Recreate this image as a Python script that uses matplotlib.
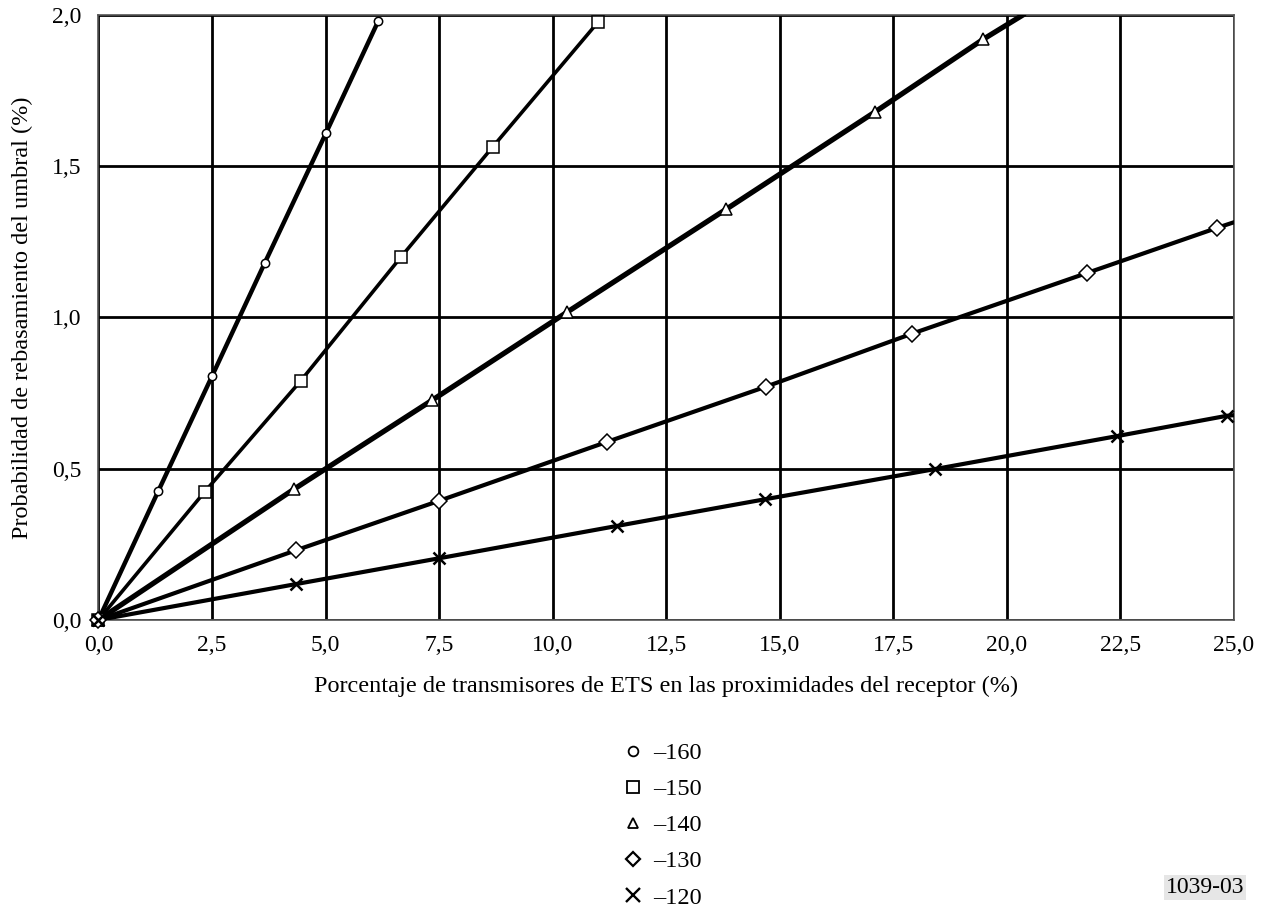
"""Threshold-exceedance probability vs share of ETS transmitters near the receiver."""
import matplotlib
matplotlib.use("Agg")
import matplotlib.pyplot as plt
from matplotlib.lines import Line2D

plt.rcParams["font.family"] = ["Liberation Serif", "DejaVu Serif"]

# series
x_160 = [0, 1.32, 2.50, 3.66, 5.01, 6.16]
y_160 = [0, 0.427, 0.806, 1.18, 1.61, 1.98]

x_150 = [0, 2.34, 4.45, 6.66, 8.68, 11.0]
y_150 = [0, 0.424, 0.79, 1.20, 1.564, 1.977]

x_140 = [0, 4.30, 7.35, 10.32, 13.82, 17.09, 19.48, 20.35]
y_140 = [0, 0.432, 0.727, 1.018, 1.358, 1.679, 1.92, 2.0]
n_mark_140 = 7          # last point is just where the line leaves the frame

x_130 = [0, 4.36, 7.50, 11.2, 14.69, 17.92, 21.76, 24.62, 25.0]
y_130 = [0, 0.231, 0.394, 0.589, 0.771, 0.947, 1.147, 1.296, 1.315]
n_mark_130 = 8

x_120 = [0, 4.36, 7.50, 11.42, 14.67, 18.42, 22.43, 24.84, 25.0]
y_120 = [0, 0.119, 0.204, 0.311, 0.399, 0.499, 0.608, 0.675, 0.677]
n_mark_120 = 8

labels = ["\u2013160", "\u2013150", "\u2013140", "\u2013130", "\u2013120"]

xticks = [0, 2.5, 5, 7.5, 10, 12.5, 15, 17.5, 20, 22.5, 25]
xticklabels = ["0,0", "2,5", "5,0", "7,5", "10,0", "12,5", "15,0", "17,5", "20,0", "22,5", "25,0"]
yticks = [0, 0.5, 1.0, 1.5, 2.0]
yticklabels = ["0,0", "0,5", "1,0", "1,5", "2,0"]

fig = plt.figure(figsize=(12.67, 9.10), dpi=100)
ax = fig.add_axes([0.0777, 0.3187, 0.8963, 0.6648])

ax.set_xlim(0, 25)
ax.set_ylim(0, 2.0)
ax.set_xticks(xticks)
ax.set_xticklabels(xticklabels)
ax.set_yticks(yticks)
ax.set_yticklabels(yticklabels)
ax.tick_params(length=0, labelsize=17)
ax.tick_params(axis="x", pad=11)
ax.tick_params(axis="y", pad=12)
ax.grid(True, color="black", lw=2.0)
ax.set_axisbelow(True)
for s in ax.spines.values():
    s.set_color("#555555")
    s.set_linewidth(1.2)

mk = dict(markerfacecolor="white", markeredgecolor="black", markeredgewidth=1.1, clip_on=False)
ax.plot(x_160, y_160, color="black", lw=3.2, marker="o", markersize=6, zorder=5, **mk)
ax.plot(x_150, y_150, color="black", lw=2.6, marker="s", markersize=9, zorder=5, **mk)
ax.plot(x_140, y_140, color="black", lw=3.8, zorder=4)
ax.plot(x_140[:n_mark_140], y_140[:n_mark_140], ls="none", marker="^", markersize=8, zorder=6, **mk)
ax.plot(x_130, y_130, color="black", lw=3.0, zorder=4)
ax.plot(x_130[:n_mark_130], y_130[:n_mark_130], ls="none", marker="D", markersize=8, zorder=6, **mk)
ax.plot(x_120, y_120, color="black", lw=3.0, zorder=4)
ax.plot(x_120[:n_mark_120], y_120[:n_mark_120], ls="none", marker="x", markersize=8,
        markeredgecolor="black", markeredgewidth=1.8, zorder=6, clip_on=False)

ax.set_xlabel("Porcentaje de transmisores de ETS en las proximidades del receptor (%)",
              fontsize=17.5, labelpad=14)
ax.set_ylabel("Probabilidad de rebasamiento del umbral (%)", fontsize=17.5)
ax.yaxis.set_label_coords(-0.058, 0.5)

# legend: markers only, below the plot
handles = [
    Line2D([], [], ls="none", marker="o", markersize=7, markerfacecolor="white", markeredgecolor="black",
           markeredgewidth=1.3),
    Line2D([], [], ls="none", marker="s", markersize=8, markerfacecolor="white", markeredgecolor="black",
           markeredgewidth=1.3),
    Line2D([], [], ls="none", marker="^", markersize=7, markerfacecolor="white", markeredgecolor="black",
           markeredgewidth=1.3),
    Line2D([], [], ls="none", marker="D", markersize=7, markerfacecolor="white", markeredgecolor="black",
           markeredgewidth=1.6),
    Line2D([], [], ls="none", marker="x", markersize=10, markeredgecolor="black", markeredgewidth=1.7),
]
fig.legend(handles, labels, loc="center", bbox_to_anchor=(0.522, 0.093), frameon=False,
           fontsize=17.5, handletextpad=0.35, labelspacing=0.58, handlelength=1.0)

fig.text(0.982, 0.013, "1039-03", ha="right", va="bottom", fontsize=17,
         bbox=dict(facecolor="#e6e6e6", edgecolor="none", pad=1.5))

fig.savefig("out.png", dpi=100)
